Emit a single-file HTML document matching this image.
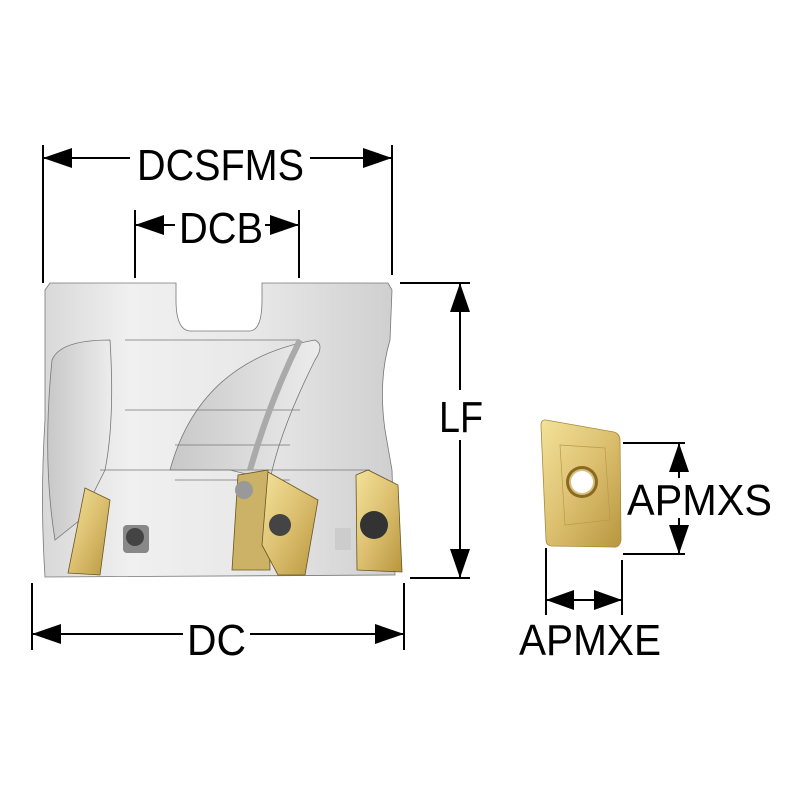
<!DOCTYPE html>
<html><head><style>html,body{margin:0;padding:0;background:#fff}svg{display:block}</style></head>
<body>
<svg width="800" height="800" viewBox="0 0 800 800" xmlns="http://www.w3.org/2000/svg">
<defs>
<linearGradient id="bg" x1="0" x2="1" y1="0" y2="0">
<stop offset="0" stop-color="#d8d8d8"/><stop offset="0.25" stop-color="#f0f0f0"/><stop offset="0.6" stop-color="#e8e8e8"/><stop offset="1" stop-color="#cfcfcf"/>
</linearGradient>
<linearGradient id="gold" x1="0" x2="1" y1="0" y2="1">
<stop offset="0" stop-color="#f3e29a"/><stop offset="0.5" stop-color="#dcc070"/><stop offset="1" stop-color="#b8963e"/>
</linearGradient>
<linearGradient id="fl" x1="0" x2="1"><stop offset="0" stop-color="#c8c8c8"/><stop offset="1" stop-color="#ececec"/></linearGradient>
</defs>
<g stroke="#777" stroke-width="0.8">
<path d="M45,290 L50,283 L176,283 L176,300 Q176,330 190,331 L250,331 Q262,330 262,300 L262,283 L388,283 L392,290 L390,340 Q378,380 385,430 L392,470 L395,575 L45,577 Q40,500 45,420 Z" fill="url(#bg)"/>
<path d="M52,360 Q60,340 110,340 Q115,420 105,470 L80,520 L55,540 Q42,460 52,360 Z" fill="url(#fl)"/>
<path d="M170,470 Q200,360 315,340 Q325,345 315,360 Q280,430 270,480 L230,470 Z" fill="url(#fl)"/>
<path d="M125,340 L300,340 M125,410 L300,410 M100,470 L370,470 M175,445 L290,445 M175,480 L290,480" fill="none"/>
<path d="M300,340 Q270,400 250,470" fill="none" stroke="#aaa" stroke-width="6"/>
</g>
<g stroke="#6a5520" stroke-width="0.8">
<path d="M85,488 L110,500 L100,575 L68,573 Z" fill="url(#gold)"/>
<path d="M238,475 L268,470 L270,570 L232,570 Z" fill="#cbb266"/>
<path d="M268,472 L300,490 L318,500 L305,575 L278,575 L262,545 Z" fill="url(#gold)"/>
<path d="M356,475 L368,470 L398,485 L402,572 L357,570 Z" fill="url(#gold)"/>
</g>
<circle cx="280" cy="525" r="11" fill="#444"/>
<circle cx="374" cy="525" r="14" fill="#333"/>
<rect x="123" y="525" width="26" height="28" rx="4" fill="#888"/>
<circle cx="135" cy="537" r="9" fill="#444"/>
<rect x="335" y="528" width="16" height="22" fill="#ccc"/>
<circle cx="244" cy="490" r="9" fill="#999"/>
<!-- insert -->
<path d="M546,420 L614,432 Q620,434 620,440 L621,540 Q620,548 612,547 L551,546 Q546,545 546,540 L541,426 Q541,419 546,420 Z" fill="url(#gold)" stroke="#a88a3a" stroke-width="0.8"/>
<path d="M560,445 L605,448 L610,520 L565,525 Z" fill="none" stroke="#b89a4a" stroke-width="0.7"/>
<circle cx="582" cy="482" r="16" fill="#8a6a20"/>
<circle cx="582" cy="482" r="13" fill="#d8c080"/>
<circle cx="582" cy="482" r="11" fill="#fff"/>
<!-- dimension lines -->
<g stroke="#000" stroke-width="2" fill="none">
<path d="M43,145 V283 M392,145 V275 M43,158 H130 M310,158 H392"/>
<path d="M135,210 V278 M299,210 V278 M135,225 H175 M265,225 H299"/>
<path d="M400,283 H470 M410,578 H470 M460,283 V390 M460,440 V578"/>
<path d="M32,583 V650 M404,583 V650 M32,634 H183 M250,634 H404"/>
<path d="M623,443 H685 M623,554 H685 M679,443 V478 M679,518 V554"/>
<path d="M546,548 V615 M622,560 V615 M546,600 H622"/>
</g>
<g fill="#000">
<path d="M43,158 L72,148 L72,168 Z M392,158 L363,148 L363,168 Z"/>
<path d="M135,225 L164,215 L164,235 Z M299,225 L270,215 L270,235 Z"/>
<path d="M460,283 L450,312 L470,312 Z M460,578 L450,549 L470,549 Z"/>
<path d="M32,634 L61,624 L61,644 Z M404,634 L375,624 L375,644 Z"/>
<path d="M679,443 L669,472 L689,472 Z M679,554 L669,525 L689,525 Z"/>
<path d="M546,600 L574,590 L574,610 Z M622,600 L594,590 L594,610 Z"/>
</g>
<g font-family="Liberation Sans, sans-serif" font-size="44" fill="#000">
<text x="137" y="180" textLength="167" lengthAdjust="spacingAndGlyphs">DCSFMS</text>
<text x="179" y="243" textLength="84" lengthAdjust="spacingAndGlyphs">DCB</text>
<text x="439" y="432" textLength="44" lengthAdjust="spacingAndGlyphs">LF</text>
<text x="187" y="655" textLength="59" lengthAdjust="spacingAndGlyphs">DC</text>
<text x="627" y="515" textLength="145" lengthAdjust="spacingAndGlyphs">APMXS</text>
<text x="519" y="655" textLength="142" lengthAdjust="spacingAndGlyphs">APMXE</text>
</g>
</svg>
</body></html>
